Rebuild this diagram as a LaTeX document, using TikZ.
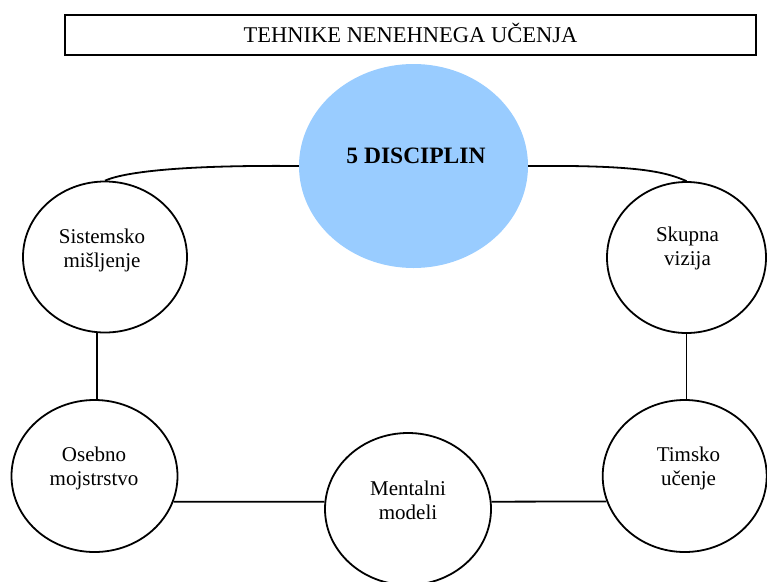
\documentclass[tikz,border=0pt]{standalone}
\usepackage{fontspec}
\setmainfont{Liberation Serif}
\usetikzlibrary{shapes.geometric}
\definecolor{discblue}{RGB}{153,204,255}
\begin{document}
\begin{tikzpicture}[x=1pt, y=-1pt,
  disc/.style={ellipse, draw, line width=1.8pt, inner sep=0pt, fill=white},
  lbl/.style={align=center, inner sep=0pt, font=\fontsize{21}{24}\selectfont},
  link/.style={line width=1.8pt}]
\useasboundingbox (0,0) rectangle (767,581);

% heading
\node[draw, rectangle, line width=2pt, minimum width=691pt, minimum height=40.5pt,
      inner sep=0pt, text height=15pt, text depth=0pt,
      font=\fontsize{22.5}{27}\selectfont] (title) at (410.5,34.85) {TEHNIKE NENEHNEGA UČENJA};

% central ellipse
\node[ellipse, fill=discblue, minimum width=229pt, minimum height=204pt, inner sep=0pt] (core) at (413.5,166) {};
\node[anchor=base, inner sep=0pt, font=\bfseries\fontsize{23.5}{28}\selectfont] (coreT) at (416,163) {5 DISCIPLIN};

% the five disciplines
\node[disc, minimum width=164pt, minimum height=151pt] (sys) at (105,257) {};
\node[disc, minimum width=159pt, minimum height=151pt] (sky) at (686.5,257.5) {};
\node[disc, minimum width=166pt, minimum height=152pt] (ose) at (94.5,476) {};
\node[disc, minimum width=166pt, minimum height=152pt] (men) at (408,509) {};
\node[disc, minimum width=164pt, minimum height=152pt] (tim) at (684.7,476) {};

\node[lbl] (sysT) at (102,250.2) {Sistemsko\\mišljenje};
\node[lbl] (skyT) at (687.5,248) {Skupna\\vizija};
\node[lbl] (oseT) at (94,468.9) {Osebno\\mojstrstvo};
\node[lbl] (menT) at (408,499.9) {Mentalni\\modeli};
\node[lbl] (timT) at (688.5,468.9) {Timsko\\učenje};

% connectors
\coordinate (lv) at (96.7,300);
\draw[link] (sys.north) .. controls (127,171) and (190,165) .. (core.west);
\draw[link] (core.east) .. controls (637,165) and (664.5,171.5) .. (sky.north);
\draw[link] (sys.south -| lv) -- (ose.north -| lv);
\draw[link] (sky.south) -- (sky.south |- tim.north);
\draw[link] (ose.-18.2) -- (men.175);
\draw[link] (men.5) -- (tim.198.4);
\end{tikzpicture}
\end{document}
